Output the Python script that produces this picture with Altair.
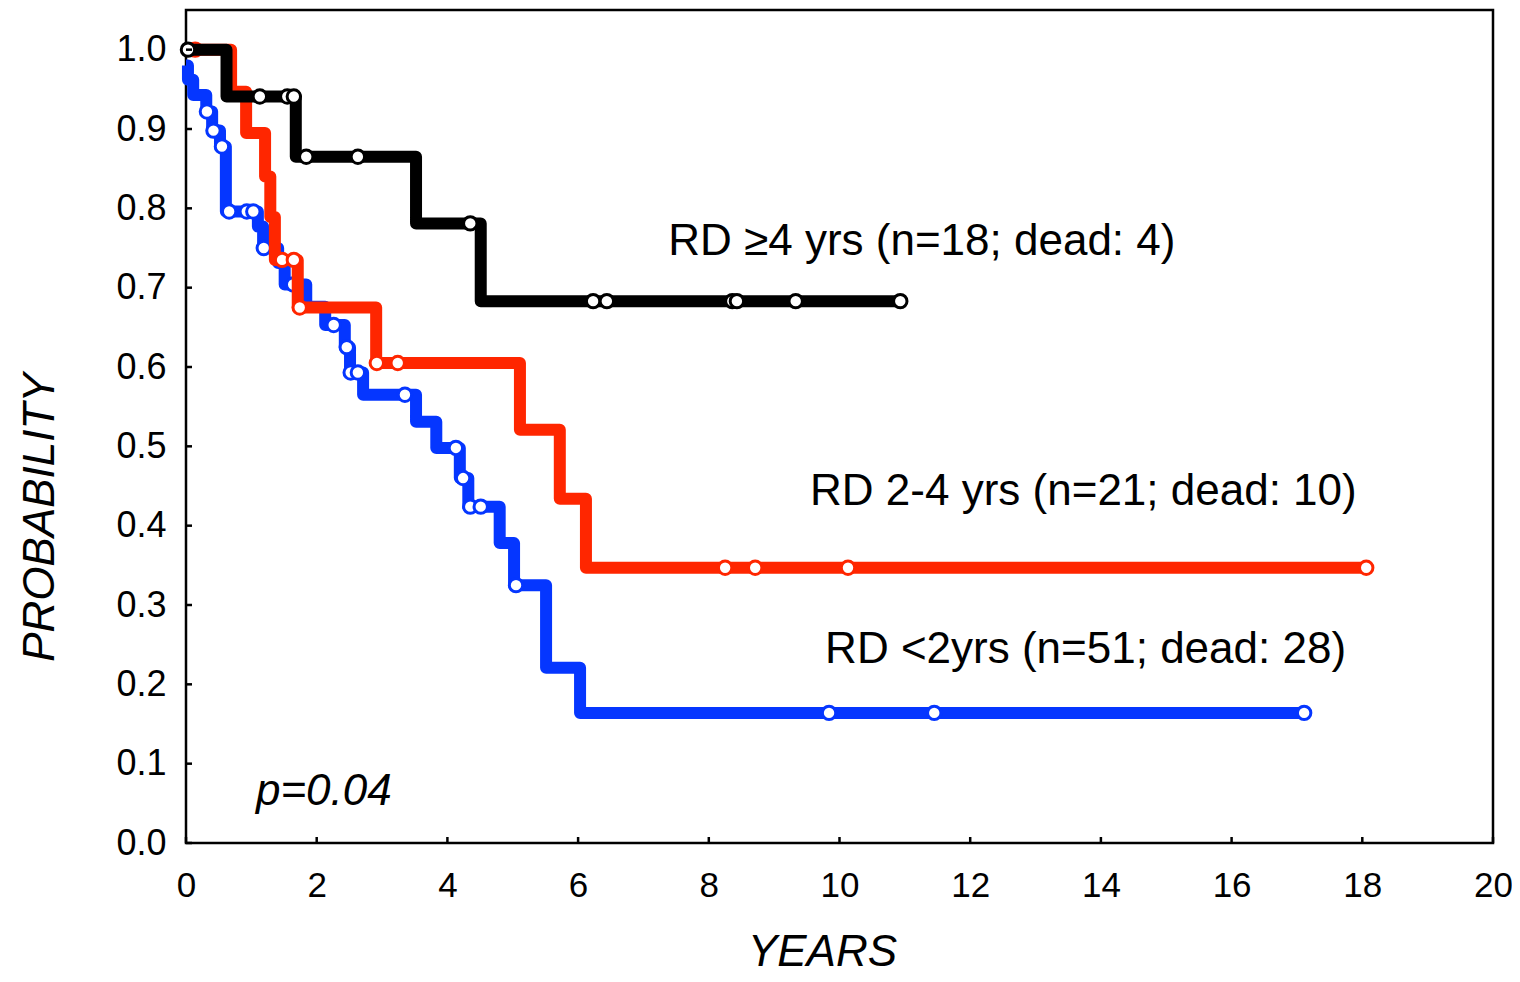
import altair as alt
import pandas as pd

# ---------------- data ----------------
groups = ["RD <2yrs", "RD 2-4 yrs", "RD >=4 yrs"]

blue_start = 0.98
blue_step_t = [0.03, 0.11, 0.31, 0.40, 0.52, 0.61, 1.10, 1.18, 1.41, 1.51, 1.84, 2.13,
               2.43, 2.51, 2.71, 3.52, 3.83, 4.19, 4.32, 4.80, 5.02, 5.51, 6.03]
blue_step_s = [0.962, 0.943, 0.922, 0.898, 0.878, 0.796, 0.777, 0.750, 0.731, 0.704, 0.676, 0.653,
               0.625, 0.593, 0.565, 0.531, 0.498, 0.460, 0.424, 0.378, 0.325, 0.221, 0.164]
blue_censor_t = [0.32, 0.42, 0.55, 0.66, 0.93, 1.03, 1.19, 1.64, 2.26, 2.46, 2.52, 2.63,
                 3.35, 4.13, 4.24, 4.35, 4.51, 5.05, 9.84, 11.45, 17.11]

red_start = 1.0
red_step_t = [0.69, 0.92, 1.21, 1.29, 1.36, 1.71, 2.91, 5.11, 5.72, 6.12]
red_step_s = [0.947, 0.895, 0.840, 0.789, 0.735, 0.675, 0.605, 0.521, 0.434, 0.347]
red_censor_t = [0.14, 1.47, 1.65, 1.74, 2.92, 3.24, 8.25, 8.71, 10.13, 18.06]

black_start = 1.0
black_step_t = [0.62, 1.68, 3.52, 4.51]
black_step_s = [0.941, 0.865, 0.781, 0.683]
black_censor_t = [0.03, 1.13, 1.55, 1.65, 1.84, 2.63, 4.35, 6.23, 6.44, 8.36, 8.43, 9.33, 10.93]

x_ticks = [0, 2, 4, 6, 8, 10, 12, 14, 16, 18, 20]
y_ticks = [0.0, 0.1, 0.2, 0.3, 0.4, 0.5, 0.6, 0.7, 0.8, 0.9, 1.0]

labels = ["RD \u22654 yrs (n=18; dead: 4)", "RD 2-4 yrs (n=21; dead: 10)", "RD <2yrs (n=51; dead: 28)"]
label_x = [7.38, 9.55, 9.78]
label_y = [0.7415, 0.4262, 0.227]
p_text = "p=0.04"

# ---------------- build tables ----------------
def curve(start, st, ss, ct):
    end = max(ct + st)
    pts = [(0.0, start)] + list(zip(st, ss)) + [(end, ss[-1])]
    return pd.DataFrame(pts, columns=["t", "s"])

def censors(start, st, ss, ct):
    rows = []
    for c in ct:
        v = start
        for a, b in zip(st, ss):
            if a <= c:
                v = b
        rows.append((c, v))
    return pd.DataFrame(rows, columns=["t", "s"])

specs = [
    (blue_start, blue_step_t, blue_step_s, blue_censor_t, "#0536FF"),
    (red_start, red_step_t, red_step_s, red_censor_t, "#FF2600"),
    (black_start, black_step_t, black_step_s, black_censor_t, "#000000"),
]

xs = alt.Scale(domain=[0, 20], nice=False, zero=False)
ys = alt.Scale(domain=[0, 1.05], nice=False, zero=False)
FONT = "Liberation Sans"

x_axis = alt.Axis(values=x_ticks, format="d", title="YEARS", grid=False, ticks=False, domain=False,
                  labelFont=FONT, labelFontSize=35, labelColor="black", labelPadding=25,
                  labelBaseline="top", labelFlush=False, labelOverlap=False,
                  titleFont=FONT, titleFontSize=44, titleFontStyle="italic", titleFontWeight="normal",
                  titleColor="black", titleX=636, titleY=122, titleBaseline="alphabetic", titleAlign="center")
y_axis = alt.Axis(values=y_ticks, format=".1f", title="PROBABILITY", grid=False, ticks=False, domain=False,
                  labelFont=FONT, labelFontSize=36, labelColor="black", labelPadding=20,
                  labelFlush=False, labelOverlap=False,
                  titleFont=FONT, titleFontSize=44, titleFontStyle="italic", titleFontWeight="normal",
                  titleColor="black", titleX=-133, titleY=507, titleAngle=270,
                  titleBaseline="alphabetic", titleAlign="center")

layers = []
first = True
for start, st, ss, ct, col in specs:
    ldf = curve(start, st, ss, ct)
    cdf = censors(start, st, ss, ct)
    if first:
        xe = alt.X("t:Q", scale=xs, axis=x_axis)
        ye = alt.Y("s:Q", scale=ys, axis=y_axis)
        first = False
    else:
        xe = alt.X("t:Q", scale=xs)
        ye = alt.Y("s:Q", scale=ys)
    layers.append(alt.Chart(ldf).mark_line(interpolate="step-after", strokeWidth=12, color=col,
                                           strokeJoin="round", strokeCap="butt").encode(x=xe, y=ye))
    layers.append(alt.Chart(cdf).mark_point(shape="circle", filled=True, fill="white", stroke=col,
                                            strokeWidth=3, size=180, opacity=1).encode(
        x=alt.X("t:Q", scale=xs), y=alt.Y("s:Q", scale=ys)))

# inward tick marks
xt = pd.DataFrame({"t": x_ticks})
yt = pd.DataFrame({"s": y_ticks})
layers.append(alt.Chart(xt).mark_rule(color="black", strokeWidth=2.5).encode(
    x=alt.X("t:Q", scale=xs), y=alt.value(833), y2=alt.value(827)))
layers.append(alt.Chart(yt).mark_rule(color="black", strokeWidth=2.5).encode(
    y=alt.Y("s:Q", scale=ys), x=alt.value(0), x2=alt.value(6)))

# annotations
ann = pd.DataFrame({"t": label_x, "s": label_y, "txt": labels})
layers.append(alt.Chart(ann).mark_text(align="left", baseline="alphabetic", font=FONT, fontSize=44,
                                       color="black").encode(
    x=alt.X("t:Q", scale=xs), y=alt.Y("s:Q", scale=ys), text="txt:N"))
layers.append(alt.Chart(pd.DataFrame({"t": [1.07], "s": [0.0479], "txt": [p_text]})).mark_text(
    align="left", baseline="alphabetic", font=FONT, fontSize=44, fontStyle="italic", color="black").encode(
    x=alt.X("t:Q", scale=xs), y=alt.Y("s:Q", scale=ys), text="txt:N"))

chart = alt.layer(*layers).properties(
    width=1307, height=833,
    autosize=alt.AutoSizeParams(type="none"),
    padding={"left": 178, "top": 2, "right": 19, "bottom": 131},
    background="white",
).configure_view(stroke="black", strokeWidth=2.5)

chart.save("out.html", embed_options={"renderer": "svg", "actions": False})
